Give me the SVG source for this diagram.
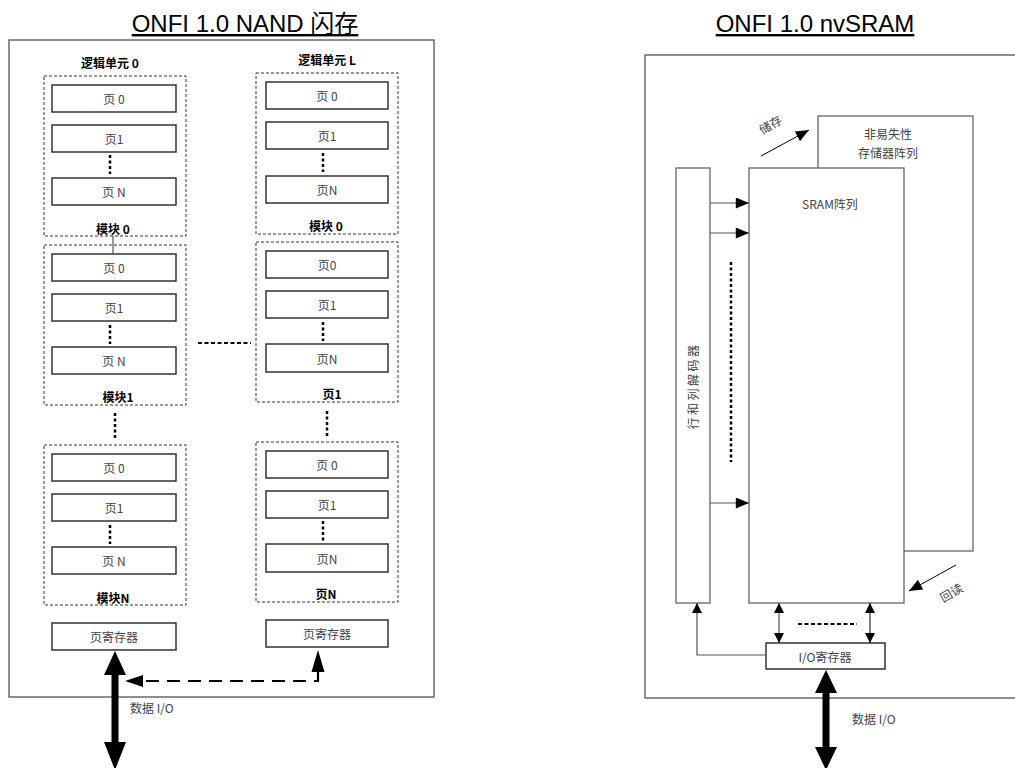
<svg xmlns="http://www.w3.org/2000/svg" width="1015" height="768" viewBox="0 0 1015 768">
<style>
.t{font-family:"Liberation Sans","Noto Sans CJK SC",sans-serif;fill:#333;font-size:12px;text-anchor:middle;dominant-baseline:central}
.cj{font-family:"Noto Sans CJK SC","Liberation Sans",sans-serif;fill:#444;font-size:12px;text-anchor:middle;dominant-baseline:central}
.b{font-family:"Noto Sans CJK SC","Liberation Sans",sans-serif;fill:#000;font-size:12px;font-weight:bold;text-anchor:middle;dominant-baseline:central}
.title{font-family:"Liberation Sans","Noto Sans CJK SC",sans-serif;fill:#000;font-size:24px;text-anchor:middle;text-decoration:underline}
.outer{fill:#fff;stroke:#444;stroke-width:1.2}
.dash{fill:none;stroke:#333;stroke-width:1;stroke-dasharray:3 2}
.pg{fill:#fff;stroke:#333;stroke-width:1.5}
.box{fill:#fff;stroke:#666;stroke-width:1.3}
.dots{stroke:#000;stroke-width:2.5;stroke-dasharray:3 2.5;fill:none}
.ln{stroke:#555;stroke-width:1.2;fill:none}
</style>
<defs>
<marker id="ah" viewBox="0 0 10 10" refX="10" refY="5" markerWidth="10" markerHeight="10" markerUnits="userSpaceOnUse" orient="auto-start-reverse"><path d="M0,0 L10,5 L0,10 Z" fill="#000"/></marker>
<marker id="ah2" viewBox="0 0 12 10" refX="12" refY="5" markerWidth="14" markerHeight="11" markerUnits="userSpaceOnUse" orient="auto-start-reverse"><path d="M0,0 L12,5 L0,10 Z" fill="#000"/></marker>
</defs>

<!-- titles -->
<text class="title" x="245" y="32">ONFI 1.0 NAND 闪存</text>
<text class="title" x="815" y="32">ONFI 1.0 nvSRAM</text>

<!-- Left panel outer -->
<g id="nand-outer"><rect class="outer" x="9" y="40" width="425" height="657"/></g>

<!-- Left column -->
<g id="lun0-label"><text class="b" x="110" y="62">逻辑单元 0</text></g>
<g id="l-block0">
<rect class="dash" x="44" y="76" width="142" height="160"/>
<rect class="pg" x="52" y="85" width="124" height="27"/><text class="cj" x="114" y="98.5">页 0</text>
<rect class="pg" x="52" y="125" width="124" height="27"/><text class="cj" x="114" y="138.5">页1</text>
<line class="dots" x1="110" y1="155" x2="110" y2="174"/>
<rect class="pg" x="52" y="178" width="124" height="27"/><text class="cj" x="114" y="191.5">页 N</text>
<text class="b" x="113" y="228">模块 0</text>
</g>
<g id="l-block1">
<rect class="dash" x="44" y="245" width="142" height="160"/>
<rect class="pg" x="52" y="254" width="124" height="27"/><text class="cj" x="114" y="267.5">页 0</text>
<rect class="pg" x="52" y="294" width="124" height="27"/><text class="cj" x="114" y="307.5">页1</text>
<line class="dots" x1="110" y1="325" x2="110" y2="344"/>
<rect class="pg" x="52" y="347" width="124" height="27"/><text class="cj" x="114" y="360.5">页 N</text>
<text class="b" x="118" y="396">模块1</text>
</g>
<g id="l-blockN">
<rect class="dash" x="44" y="445" width="142" height="160"/>
<rect class="pg" x="52" y="454" width="124" height="27"/><text class="cj" x="114" y="467.5">页 0</text>
<rect class="pg" x="52" y="494" width="124" height="27"/><text class="cj" x="114" y="507.5">页1</text>
<line class="dots" x1="110" y1="525" x2="110" y2="544"/>
<rect class="pg" x="52" y="547" width="124" height="27"/><text class="cj" x="114" y="560.5">页 N</text>
<text class="b" x="113" y="597">模块N</text>
</g>
<g id="l-pagereg"><rect class="pg" x="52" y="623" width="124" height="27"/><text class="cj" x="114" y="636.5">页寄存器</text></g>

<!-- Right column -->
<g id="lunL-label"><text class="b" x="327" y="59">逻辑单元 L</text></g>
<g id="r-block0">
<rect class="dash" x="256" y="73" width="142" height="161"/>
<rect class="pg" x="266" y="82" width="122" height="27"/><text class="cj" x="327" y="95.5">页 0</text>
<rect class="pg" x="266" y="122" width="122" height="27"/><text class="cj" x="327" y="135.5">页1</text>
<line class="dots" x1="323" y1="153" x2="323" y2="172"/>
<rect class="pg" x="266" y="176" width="122" height="27"/><text class="cj" x="327" y="189.5">页N</text>
<text class="b" x="326" y="225">模块 0</text>
</g>
<g id="r-block1">
<rect class="dash" x="256" y="242" width="142" height="160"/>
<rect class="pg" x="266" y="251" width="122" height="27"/><text class="cj" x="327" y="264.5">页0</text>
<rect class="pg" x="266" y="291" width="122" height="27"/><text class="cj" x="327" y="304.5">页1</text>
<line class="dots" x1="323" y1="322" x2="323" y2="341"/>
<rect class="pg" x="266" y="344" width="122" height="28"/><text class="cj" x="327" y="358">页N</text>
<text class="b" x="332" y="393">页1</text>
</g>
<g id="r-blockN">
<rect class="dash" x="256" y="442" width="142" height="160"/>
<rect class="pg" x="266" y="451" width="122" height="27"/><text class="cj" x="327" y="464.5">页 0</text>
<rect class="pg" x="266" y="491" width="122" height="27"/><text class="cj" x="327" y="504.5">页1</text>
<line class="dots" x1="323" y1="521" x2="323" y2="541"/>
<rect class="pg" x="266" y="544" width="122" height="28"/><text class="cj" x="327" y="558">页N</text>
<text class="b" x="326" y="593">页N</text>
</g>
<g id="r-pagereg"><rect class="pg" x="266" y="620" width="122" height="27"/><text class="cj" x="327" y="633.5">页寄存器</text></g>

<!-- Right panel -->
<g id="nvsram-outer"><rect class="outer" x="645" y="55" width="380" height="643"/></g>
<g id="nv-array"><rect class="box" x="818" y="116" width="155" height="435"/>
<text class="cj" x="888" y="133" font-size="13">非易失性</text><text class="cj" x="888" y="152" font-size="13">存储器阵列</text></g>
<g id="sram-array"><rect class="box" x="749" y="168" width="155" height="435"/>
<text class="cj" x="830" y="203">SRAM阵列</text></g>
<g id="decoder"><rect class="box" x="676" y="168" width="34" height="435"/>
<text class="cj" transform="translate(692,386) rotate(-90)" font-size="13" letter-spacing="2.5">行和列解码器</text></g>
<g id="io-reg"><rect class="pg" x="766" y="643" width="119" height="26"/><text class="cj" x="825" y="656">I/O寄存器</text></g>
<g id="labels">
<text class="cj" transform="translate(770,124) rotate(-30)">储存</text>
<text class="cj" transform="translate(951,592) rotate(-30)">回读</text>
<text class="cj" x="130" y="707" text-anchor="start" style="text-anchor:start">数据 I/O</text>
<text class="cj" x="852" y="718" style="text-anchor:start">数据 I/O</text>
</g>

<!-- connectors -->
<g id="connectors">
<line x1="113" y1="236" x2="113" y2="254" stroke="#555" stroke-width="1.2"/>
<line class="dots" x1="115" y1="413" x2="115" y2="438"/>
<line class="dots" x1="327" y1="411" x2="327" y2="436"/>
<line x1="198" y1="343" x2="251" y2="343" stroke="#000" stroke-width="2" stroke-dasharray="4 2.5"/>
<!-- thick double arrow left -->
<line x1="115" y1="672" x2="115" y2="745" stroke="#000" stroke-width="7"/>
<path d="M115,651 L104,675 L126,675 Z" fill="#000"/>
<path d="M115,770 L104,742 L126,742 Z" fill="#000"/>
<!-- dashed arrow -->
<path d="M318,672 L318,681 L140,681" fill="none" stroke="#000" stroke-width="2.2" stroke-dasharray="13 8"/>
<path d="M125,681 L143,675 L143,687 Z" fill="#000"/>
<path d="M318,650 L311.5,672 L324.5,672 Z" fill="#000"/>
<!-- decoder arrows -->
<line class="ln" x1="710" y1="203" x2="749" y2="203" marker-end="url(#ah2)"/>
<line class="ln" x1="710" y1="233" x2="749" y2="233" marker-end="url(#ah2)"/>
<line class="ln" x1="710" y1="503" x2="749" y2="503" marker-end="url(#ah2)"/>
<line class="dots" x1="731" y1="262" x2="731" y2="462" stroke-width="2.2" stroke-dasharray="2.5 2.5"/>
<!-- store / readback -->
<line x1="761" y1="156" x2="809" y2="130" stroke="#000" stroke-width="1" marker-end="url(#ah2)"/>
<line x1="956" y1="565" x2="909" y2="591" stroke="#000" stroke-width="1" marker-end="url(#ah2)"/>
<!-- sram to io -->
<line class="ln" x1="779" y1="603" x2="779" y2="643" marker-start="url(#ah)" marker-end="url(#ah)"/>
<line x1="870" y1="603" x2="870" y2="643" stroke="#000" stroke-width="1" marker-start="url(#ah)" marker-end="url(#ah)"/>
<line x1="798" y1="624" x2="857" y2="624" stroke="#000" stroke-width="2" stroke-dasharray="4 2.5"/>
<!-- io to decoder -->
<path class="ln" d="M766,655 L697,655 L697,603" marker-end="url(#ah)"/>
<!-- thick double arrow right -->
<line x1="826" y1="690" x2="826" y2="750" stroke="#000" stroke-width="7"/>
<path d="M826,670 L815,693 L837,693 Z" fill="#000"/>
<path d="M826,770 L815,747 L837,747 Z" fill="#000"/>
</g>
</svg>
